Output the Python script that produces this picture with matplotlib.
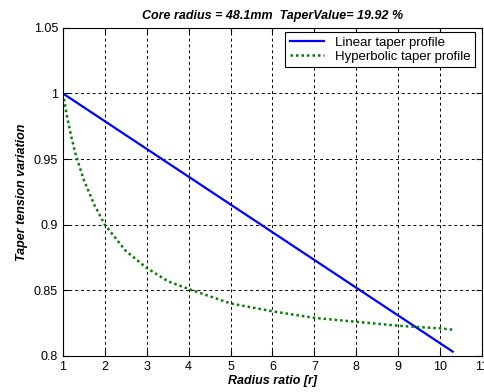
import matplotlib.pyplot as plt

plt.rcParams['font.family'] = ['Liberation Sans', 'DejaVu Sans']

# radius ratio vs tension for the two taper profiles
lin_r = [1.0, 10.3]
lin_t = [1.0, 0.8033]

hyp_r = [1.0, 1.1, 1.2, 1.3, 1.5, 1.75, 2.0, 2.5, 3.0, 3.5, 4.0, 5.0, 6.0, 7.0, 8.0, 9.0, 10.0, 10.3]
hyp_t = [1.0, 0.982, 0.967, 0.954, 0.934, 0.915, 0.900, 0.880, 0.867, 0.857, 0.851,
         0.840, 0.834, 0.829, 0.826, 0.823, 0.821, 0.820]

xticks = list(range(1, 12))
yticks = [0.8, 0.85, 0.9, 0.95, 1.0, 1.05]
ytick_labels = ['0.8', '0.85', '0.9', '0.95', '1', '1.05']

fig = plt.figure(figsize=(4.84, 3.92), dpi=100)
ax = fig.add_axes([0.130, 0.092, 0.866, 0.837])

ax.plot(lin_r, lin_t, color='blue', linewidth=1.6, label='Linear taper profile')
ax.plot(hyp_r, hyp_t, color=(0, 0.5, 0), linestyle=(0, (1, 1.2)), linewidth=1.8,
        label='Hyperbolic taper profile')

ax.set_xlim(1, 11)
ax.set_ylim(0.8, 1.05)
ax.set_xticks(xticks)
ax.set_xticklabels([str(v) for v in xticks])
ax.set_yticks(yticks)
ax.set_yticklabels(ytick_labels)
ax.tick_params(direction='in', length=4, labelsize=9, colors='black', width=0.8,
               top=True, right=True)
ax.tick_params(axis='x', pad=4)
ax.grid(True, color='black', linestyle=(0, (3, 3)), linewidth=0.7)
for s in ax.spines.values():
    s.set_linewidth(0.8)

ax.set_title('Core radius = 48.1mm  TaperValue= 19.92 %', fontsize=9,
             fontweight='bold', fontstyle='italic', pad=6)
ax.set_xlabel('Radius ratio [r]', fontsize=9, fontweight='bold', fontstyle='italic', labelpad=1)
ax.set_ylabel('Taper tension variation', fontsize=9, fontweight='bold', fontstyle='italic', labelpad=4)

leg = ax.legend(loc='upper right', bbox_to_anchor=(0.983, 0.988), borderaxespad=0,
                fontsize=9.5, fancybox=False, framealpha=1, edgecolor='black',
                handlelength=2.6, labelspacing=0.15, borderpad=0.35)
leg.get_frame().set_linewidth(0.8)

fig.savefig('out.png', dpi=100)
